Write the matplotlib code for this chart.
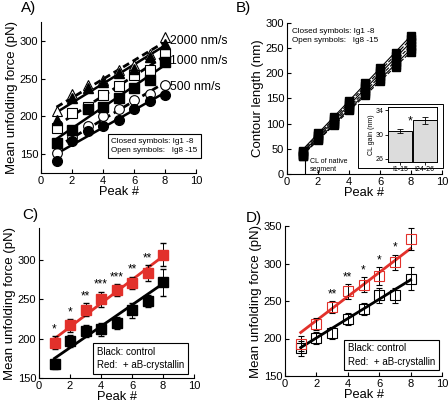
import numpy as np
import matplotlib
matplotlib.use("Agg")
import matplotlib.pyplot as plt
from matplotlib.patches import Rectangle

plt.rcParams['font.family'] = ['Liberation Sans', 'DejaVu Sans']

peaks = np.arange(1, 9)

# panel A: mean unfolding force at three pulling speeds
a_500_closed = [141, 167, 180, 187, 195, 210, 220, 228]
a_500_open = [152, 173, 187, 200, 210, 222, 230, 242]
a_1000_closed = [165, 182, 210, 213, 225, 238, 248, 272]
a_1000_open = [185, 205, 212, 228, 240, 255, 262, 283]
a_2000_closed = [195, 225, 237, 245, 258, 263, 278, 296]
a_2000_open = [207, 230, 242, 248, 262, 268, 282, 305]

# panel B: contour length
b_series = [
    [45, 82, 114, 146, 180, 210, 240, 275],
    [43, 78, 110, 142, 175, 205, 235, 268],
    [40, 75, 106, 138, 170, 200, 228, 262],
    [38, 72, 102, 134, 165, 194, 222, 255],
    [36, 69, 99, 130, 160, 188, 216, 248],
    [35, 67, 97, 127, 157, 184, 212, 242],
]
inset_labels = ["I1-15", "I24-26"]
inset_vals = [30.6, 32.3]
inset_err = [0.3, 0.5]

# panel C
c_black = [168, 197, 210, 212, 220, 236, 248, 272]
c_black_err = [6, 8, 8, 8, 8, 10, 8, 17]
c_red = [195, 217, 237, 250, 262, 271, 284, 307]
c_red_err = [8, 8, 8, 10, 8, 8, 10, 15]
c_stars = ["*", "*", "**", "***", "***", "**", "**"]
c_fit_black = (13.6, 161.4)
c_fit_red = (15.0, 185.0)

# panel D
d_black = [187, 201, 208, 226, 239, 258, 258, 280]
d_black_err = [10, 8, 8, 8, 8, 10, 10, 15]
d_red = [193, 220, 242, 263, 272, 283, 302, 333]
d_red_err = [10, 8, 8, 10, 10, 12, 10, 15]
d_stars = ["", "", "**", "**", "*", "*", "*"]
d_fit_black = (12.9, 175.0)
d_fit_red = (16.0, 192.0)

RED = "#e2312b"
W, H = 448, 405


def make_ax(l, t, r, b):
    return fig.add_axes([l / W, 1 - b / H, (r - l) / W, (b - t) / H])


def style(ax):
    for s in ("top", "right"):
        ax.spines[s].set_visible(False)
    ax.tick_params(direction="in", labelsize=8, length=3, width=0.8, pad=2)
    ax.set_xlim(0, 10)
    ax.set_xticks([0, 2, 4, 6, 8, 10])
    ax.set_xlabel("Peak #", fontsize=9.3, labelpad=0)


fig = plt.figure(figsize=(4.48, 4.05), dpi=100)

# ---- A ----
ax = make_ax(41, 22, 196, 173)
style(ax)
ax.set_ylim(125, 325)
ax.set_yticks([150, 200, 250, 300])
ax.set_ylabel("Mean unfolding force (pN)", fontsize=9.5, labelpad=1)
for closed, opened, m in [(a_500_closed, a_500_open, "o"),
                          (a_1000_closed, a_1000_open, "s"),
                          (a_2000_closed, a_2000_open, "^")]:
    k, c = np.polyfit(peaks, opened, 1)
    ax.plot(peaks, k * peaks + c, "k--", lw=2, dashes=(2.5, 1.5))
    k, c = np.polyfit(peaks, closed, 1)
    ax.plot(peaks, k * peaks + c, "k-", lw=1.8)
    ax.plot(peaks, opened, m, ms=7, mfc="white", mec="black", mew=0.8)
    ax.plot(peaks, closed, m, ms=7, color="black")
ax.text(8.35, 300, "2000 nm/s", fontsize=8.8, va="center")
ax.text(8.35, 274, "1000 nm/s", fontsize=8.8, va="center")
ax.text(8.35, 239, "500 nm/s", fontsize=8.8, va="center")
ax.text(4.53, 161, "Closed symbols: Ig1 -8\nOpen symbols:   Ig8 -15", fontsize=5.9,
        linespacing=1.5, va="center", clip_on=False,
        bbox=dict(boxstyle="square,pad=0.45", fc="white", ec="black", lw=0.8))
fig.text(21 / W, 1 - 8 / H, "A)", fontsize=11, va="center")

# ---- B ----
ax = make_ax(287, 23, 442, 174)
style(ax)
ax.set_ylim(0, 300)
ax.set_yticks(range(0, 301, 50))
ax.set_ylabel("Contour length (nm)", fontsize=9.5, labelpad=1)
for i, s in enumerate(b_series):
    k, c = np.polyfit(peaks, s, 1)
    ax.plot(peaks, k * peaks + c, color="black", lw=0.8, ls="-" if i % 2 == 0 else "--")
for s in b_series:
    ax.plot(peaks, s, "s", ms=6, color="black")
ax.text(0.3, 291, "Closed symbols: Ig1 -8\nOpen symbols:   Ig8 -15", fontsize=5.9,
        linespacing=1.45, va="top")
ax.plot([1.15, 1.15], [2, 30], color="black", lw=0.8)
ax.text(1.5, 16, "CL of native\nsegment", fontsize=5, va="center", linespacing=1.2)
fig.text(236 / W, 1 - 8 / H, "B)", fontsize=11, va="center")

fig.patches.append(Rectangle((358 / W, 1 - 168 / H), 85 / W, 64 / H, zorder=3,
                             transform=fig.transFigure, fc="white", ec="black", lw=0.7))
ins = make_ax(388, 107, 437, 162)
ins.set_zorder(5)
ins.bar([0, 1], inset_vals, yerr=inset_err, width=0.96, color="#dcdcdc",
        edgecolor="black", lw=0.7, capsize=2, error_kw=dict(lw=0.6, capthick=0.6))
ins.set_ylim(25.5, 34.5)
ins.set_xlim(-0.5, 1.5)
ins.set_yticks([26, 30, 34])
ins.set_xticks([0, 1])
ins.set_xticklabels(inset_labels)
ins.tick_params(labelsize=5, length=2, width=0.6, pad=1)
ins.set_ylabel("CL gain (nm)", fontsize=5, labelpad=1)
for s in ins.spines.values():
    s.set_linewidth(0.7)
ins.text(0.4, 32.1, "*", fontsize=9, ha="center", va="center")

# ---- C ----
ax = make_ax(39, 228, 194, 378)
style(ax)
ax.set_ylim(150, 341)
ax.set_yticks([150, 200, 250, 300])
ax.set_ylabel("Mean unfolding force (pN)", fontsize=9.5, labelpad=1)
ax.plot(peaks, c_fit_black[0] * peaks + c_fit_black[1], color="black", lw=2)
ax.plot(peaks, c_fit_red[0] * peaks + c_fit_red[1], color=RED, lw=2)
ax.errorbar(peaks, c_black, yerr=c_black_err, fmt="s", ms=7.5, color="black",
            ecolor="black", elinewidth=0.7, capsize=2)
ax.errorbar(peaks, c_red, yerr=c_red_err, fmt="s", ms=7.5, color=RED,
            ecolor="black", elinewidth=0.7, capsize=2)
for x, y, e, s in zip(peaks, c_red, c_red_err, c_stars):
    ax.text(x, y + e + 1, s, fontsize=8.5, ha="center", va="bottom")
ax.text(3.76, 175, "Black: control\nRed:  + aB-crystallin", fontsize=7,
        linespacing=1.4, va="center",
        bbox=dict(boxstyle="square,pad=0.4", fc="white", ec="black", lw=0.8))
fig.text(22 / W, 1 - 215 / H, "C)", fontsize=11, va="center")

# ---- D ----
ax = make_ax(285, 226, 442, 376)
style(ax)
ax.set_ylim(150, 350)
ax.set_yticks([150, 200, 250, 300, 350])
ax.set_ylabel("Mean unfolding force (pN)", fontsize=9.5, labelpad=1)
ax.plot(peaks, d_fit_black[0] * peaks + d_fit_black[1], color="black", lw=2)
ax.plot(peaks, d_fit_red[0] * peaks + d_fit_red[1], color=RED, lw=2)
ax.errorbar(peaks, d_black, yerr=d_black_err, fmt="s", ms=7.5, mfc="none", mec="black",
            ecolor="black", elinewidth=0.7, capsize=2, mew=0.8)
ax.errorbar(peaks, d_red, yerr=d_red_err, fmt="s", ms=7.5, mfc="none", mec=RED,
            ecolor="black", elinewidth=0.7, capsize=2, mew=0.8)
for x, y, e, s in zip(peaks, d_red, d_red_err, d_stars):
    ax.text(x, y + e + 1, s, fontsize=8.5, ha="center", va="bottom")
ax.text(4.0, 178, "Black: control\nRed:  + aB-crystallin", fontsize=7,
        linespacing=1.4, va="center", clip_on=False,
        bbox=dict(boxstyle="square,pad=0.4", fc="white", ec="black", lw=0.8))
fig.text(246 / W, 1 - 218 / H, "D)", fontsize=11, va="center")

fig.savefig("out.png", dpi=100)
